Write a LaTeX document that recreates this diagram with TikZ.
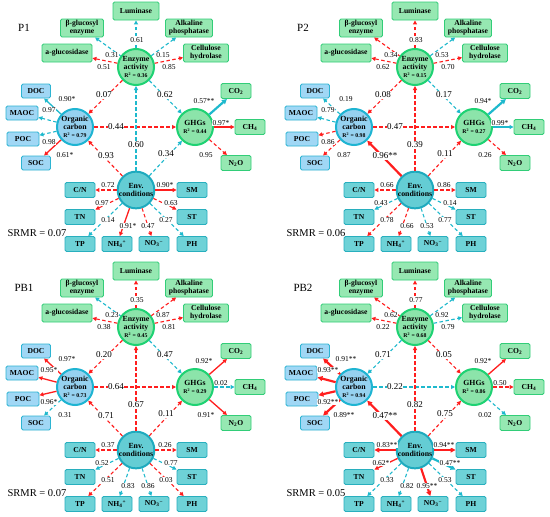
\documentclass[tikz,border=0pt]{standalone}
\usepackage{fontspec}
\setmainfont{Liberation Serif}
\usetikzlibrary{arrows.meta}
\definecolor{gfill}{RGB}{150,232,178}
\definecolor{gline}{RGB}{50,205,120}
\definecolor{gcf}{RGB}{140,228,170}
\definecolor{gcl}{RGB}{30,210,115}
\definecolor{bfill}{RGB}{160,215,245}
\definecolor{bline}{RGB}{45,180,210}
\definecolor{ocf}{RGB}{150,210,240}
\definecolor{ocl}{RGB}{30,180,210}
\definecolor{tfill}{RGB}{110,210,215}
\definecolor{tline}{RGB}{40,175,190}
\definecolor{evf}{RGB}{100,205,212}
\definecolor{evl}{RGB}{30,170,190}
\definecolor{redA}{RGB}{255,30,30}
\definecolor{cyA}{RGB}{30,185,205}
\pgfdeclarelayer{fg}
\pgfsetlayers{main,fg}
\tikzset{
 base/.style={rounded corners=1.5pt, line width=0.9pt, align=center, font=\bfseries\fontsize{7.6}{8}\selectfont, inner xsep=3pt, inner ysep=1.5pt},
 gbox/.style={base, draw=gline, fill=gfill, minimum height=18pt},
 sbox/.style={base, draw=gline, fill=gfill, minimum height=15pt, minimum width=30pt},
 bbox/.style={base, draw=bline, fill=bfill, minimum height=14pt, minimum width=29pt},
 tbox/.style={base, draw=tline, fill=tfill, minimum height=15pt, minimum width=30pt},
 lat/.style={circle, line width=2pt, minimum size=36pt, inner sep=0pt, align=center, font=\bfseries\fontsize{7.8}{8.3}\selectfont},
 gcirc/.style={lat, draw=gcl, fill=gcf},
 ocirc/.style={lat, draw=ocl, fill=ocf},
 ecirc/.style={lat, draw=evl, fill=evf},
 lab/.style={fill=white, inner sep=0.3pt, font=\fontsize{7.5}{8}\selectfont},
 blab/.style={fill=white, inner sep=0.5pt, font=\fontsize{9}{9}\selectfont},
 ttl/.style={font=\fontsize{11}{11}\selectfont},
 srmr/.style={font=\fontsize{10.5}{11}\selectfont},
 conn/.style={line width=1.1pt, -{Triangle[length=4pt,width=4pt]}},
 rd/.style={conn, draw=redA, dash pattern=on 3.5pt off 2.5pt},
 cd/.style={conn, draw=cyA, dash pattern=on 3.5pt off 2.5pt},
 rs/.style={conn, draw=redA, line width=1.3pt},
 cs/.style={conn, draw=cyA, line width=1.3pt},
 rS/.style={conn, draw=redA, line width=2.2pt, -{Triangle[length=5pt,width=5pt]}},
 cS/.style={conn, draw=cyA, line width=2.2pt, -{Triangle[length=5pt,width=5pt]}},
}
\newcommand\rsq[1]{{\fontsize{5.8}{6.2}\selectfont R\textsuperscript{2} = #1}}
\newcommand\PanelNodes[6]{%
 \node[ttl] (#1-title) at (24,28) {#2};
 \node[gbox, minimum width=46pt] (#1-Lum) at (136,11) {Luminase};
 \node[gbox, minimum width=43pt] (#1-Bgl) at (82,28) {β-glucosyl\\enzyme};
 \node[gbox, minimum width=50pt] (#1-Agl) at (67,53) {a-glucosidase};
 \node[gbox, minimum width=47pt] (#1-Alk) at (189,28) {Alkaline\\phosphatase};
 \node[gbox, minimum width=45pt] (#1-Cel) at (206,53) {Cellulose\\hydrolase};
 \node[gcirc] (#1-Enz) at (136,67) {Enzyme\\activity\\\rsq{#3}};
 \node[bbox] (#1-DOC) at (36,91) {DOC};
 \node[bbox, minimum width=32pt] (#1-MAOC) at (22,113) {MAOC};
 \node[ocirc] (#1-OC) at (75,127) {Organic\\carbon\\\rsq{#4}};
 \node[bbox, minimum width=32pt] (#1-POC) at (23,139) {POC};
 \node[bbox] (#1-SOC) at (36,163) {SOC};
 \node[gcirc] (#1-GHG) at (195,127) {GHGs\\\rsq{#5}};
 \node[sbox] (#1-CO2) at (236,91) {CO\textsubscript{2}};
 \node[sbox] (#1-CH4) at (250,127) {CH\textsubscript{4}};
 \node[sbox] (#1-N2O) at (236,163) {N\textsubscript{2}O};
 \node[ecirc] (#1-Env) at (136,190) {Env.\\conditions};
 \node[tbox] (#1-CN) at (80,190) {C/N};
 \node[tbox] (#1-TN) at (80,217) {TN};
 \node[tbox] (#1-TP) at (80,244) {TP};
 \node[tbox] (#1-NH4) at (117,244) {NH\textsubscript{4}\textsuperscript{+}};
 \node[tbox] (#1-NO3) at (154,244) {NO\textsubscript{3}\textsuperscript{−}};
 \node[tbox] (#1-PH) at (192,244) {PH};
 \node[tbox] (#1-SM) at (192,190) {SM};
 \node[tbox] (#1-ST) at (192,217) {ST};
 \node[srmr] (#1-srmr) at (37,233) {SRMR = #6};
 \coordinate (#1-LEnzLum) at (137,40);
 \coordinate (#1-LEnzBgl) at (112,55);
 \coordinate (#1-LEnzAgl) at (104,67);
 \coordinate (#1-LEnzAlk) at (163,55);
 \coordinate (#1-LEnzCel) at (169,67);
 \coordinate (#1-LOCDOC) at (67,99);
 \coordinate (#1-LOCMAOC) at (49,110);
 \coordinate (#1-LOCPOC) at (49,142);
 \coordinate (#1-LOCSOC) at (65,155);
 \coordinate (#1-LGHGCO2) at (204,101);
 \coordinate (#1-LGHGCH4) at (221,123);
 \coordinate (#1-LGHGN2O) at (206,155);
 \coordinate (#1-LEnzOC) at (104,95);
 \coordinate (#1-LEnzGHG) at (165,95);
 \coordinate (#1-LOCGHG) at (116,127);
 \coordinate (#1-LEnvEnz) at (136,145);
 \coordinate (#1-LEnvOC) at (106,156);
 \coordinate (#1-LEnvGHG) at (166,154);
 \coordinate (#1-LEnvCN) at (108,185);
 \coordinate (#1-LEnvSM) at (165,185);
 \coordinate (#1-LEnvTN) at (102,203);
 \coordinate (#1-LEnvST) at (171,203);
 \coordinate (#1-LEnvTP) at (108,220);
 \coordinate (#1-LEnvNH4) at (128,226);
 \coordinate (#1-LEnvNO3) at (148,226);
 \coordinate (#1-LEnvPH) at (166,220);
}
\newcommand\Edge[5][lab]{%
 \draw[#4] (\px-#2) -- (\px-#3);
 \begin{pgfonlayer}{fg}\node[#1] (\px-l#2#3) at (\px-L#2#3) {#5};\end{pgfonlayer}}
\begin{document}
\begin{tikzpicture}[x=1pt,y=-1pt]
\fill[white] (0,0) rectangle (550,517);
\useasboundingbox (0,0) rectangle (550,517);
% ---------- P1
\begin{scope}[shift={(0,0)}]
\def\px{a}
\PanelNodes{a}{P1}{0.36}{0.79}{0.44}{0.07}
\Edge{Enz}{Lum}{cd}{0.61}
\Edge{Enz}{Bgl}{cd}{0.31}
\Edge{Enz}{Agl}{rd}{0.51}
\Edge{Enz}{Alk}{cd}{0.15}
\Edge{Enz}{Cel}{rd}{0.85}
\Edge{OC}{DOC}{cs}{0.90*}
\Edge{OC}{MAOC}{cd}{0.97}
\Edge{OC}{POC}{cd}{0.98}
\Edge{OC}{SOC}{rs}{0.61*}
\Edge{GHG}{CO2}{cS}{0.57**}
\Edge{GHG}{CH4}{rs}{0.97*}
\Edge{GHG}{N2O}{rd}{0.95}
\Edge[blab]{Enz}{OC}{rd}{0.07}
\Edge[blab]{Enz}{GHG}{cd}{0.62}
\Edge[blab]{OC}{GHG}{rd}{0.44}
\Edge[blab]{Env}{Enz}{cd}{0.60}
\Edge[blab]{Env}{OC}{rd}{0.93}
\Edge[blab]{Env}{GHG}{cd}{0.34}
\Edge{Env}{CN}{rd}{0.72}
\Edge{Env}{TN}{rd}{0.97}
\Edge{Env}{TP}{cd}{0.14}
\Edge{Env}{NH4}{rs}{0.91*}
\Edge{Env}{NO3}{rd}{0.47}
\Edge{Env}{PH}{cd}{0.27}
\Edge{Env}{SM}{rs}{0.90*}
\Edge{Env}{ST}{rd}{0.63}
\end{scope}
% ---------- P2
\begin{scope}[shift={(279,0)}]
\def\px{b}
\PanelNodes{b}{P2}{0.15}{0.98}{0.27}{0.06}
\Edge{Enz}{Lum}{rd}{0.83}
\Edge{Enz}{Bgl}{rd}{0.34}
\Edge{Enz}{Agl}{rd}{0.62}
\Edge{Enz}{Alk}{cd}{0.53}
\Edge{Enz}{Cel}{rd}{0.70}
\Edge{OC}{DOC}{cd}{0.19}
\Edge{OC}{MAOC}{cd}{0.79}
\Edge{OC}{POC}{rd}{0.86}
\Edge{OC}{SOC}{rd}{0.87}
\Edge{GHG}{CO2}{cS}{0.94*}
\Edge{GHG}{CH4}{cs}{0.99*}
\Edge{GHG}{N2O}{rd}{0.26}
\Edge[blab]{Enz}{OC}{rd}{0.08}
\Edge[blab]{Enz}{GHG}{cd}{0.17}
\Edge[blab]{OC}{GHG}{rd}{0.47}
\Edge[blab]{Env}{Enz}{rd}{0.39}
\Edge[blab]{Env}{OC}{rS}{0.96**}
\Edge[blab]{Env}{GHG}{rd}{0.11}
\Edge{Env}{CN}{rd}{0.66}
\Edge{Env}{TN}{cd}{0.43}
\Edge{Env}{TP}{rd}{0.78}
\Edge{Env}{NH4}{rd}{0.66}
\Edge{Env}{NO3}{cd}{0.53}
\Edge{Env}{PH}{cd}{0.77}
\Edge{Env}{SM}{rd}{0.86}
\Edge{Env}{ST}{cd}{0.14}
\end{scope}
% ---------- PB1
\begin{scope}[shift={(0,260)}]
\def\px{c}
\PanelNodes{c}{PB1}{0.45}{0.73}{0.29}{0.07}
\Edge{Enz}{Lum}{rd}{0.35}
\Edge{Enz}{Bgl}{cd}{0.23}
\Edge{Enz}{Agl}{rd}{0.38}
\Edge{Enz}{Alk}{rd}{0.87}
\Edge{Enz}{Cel}{rd}{0.81}
\Edge{OC}{DOC}{rs}{0.97*}
\Edge{OC}{MAOC}{rs}{0.95*}
\Edge{OC}{POC}{rs}{0.96*}
\Edge{OC}{SOC}{cd}{0.31}
\Edge{GHG}{CO2}{rs}{0.92*}
\Edge{GHG}{CH4}{cd}{0.02}
\Edge{GHG}{N2O}{rs}{0.91*}
\Edge[blab]{Enz}{OC}{rd}{0.20}
\Edge[blab]{Enz}{GHG}{cd}{0.47}
\Edge[blab]{OC}{GHG}{rd}{0.64}
\Edge[blab]{Env}{Enz}{rd}{0.67}
\Edge[blab]{Env}{OC}{rd}{0.71}
\Edge[blab]{Env}{GHG}{rd}{0.11}
\Edge{Env}{CN}{rd}{0.37}
\Edge{Env}{TN}{cd}{0.52}
\Edge{Env}{TP}{rd}{0.51}
\Edge{Env}{NH4}{cd}{0.83}
\Edge{Env}{NO3}{cd}{0.86}
\Edge{Env}{PH}{rd}{0.03}
\Edge{Env}{SM}{rd}{0.26}
\Edge{Env}{ST}{cd}{0.77}
\end{scope}
% ---------- PB2
\begin{scope}[shift={(279,260)}]
\def\px{d}
\PanelNodes{d}{PB2}{0.68}{0.94}{0.86}{0.05}
\Edge{Enz}{Lum}{rd}{0.77}
\Edge{Enz}{Bgl}{rd}{0.62}
\Edge{Enz}{Agl}{rd}{0.22}
\Edge{Enz}{Alk}{cd}{0.92}
\Edge{Enz}{Cel}{cd}{0.79}
\Edge{OC}{DOC}{rS}{0.91**}
\Edge{OC}{MAOC}{rS}{0.93**}
\Edge{OC}{POC}{rS}{0.92**}
\Edge{OC}{SOC}{rS}{0.89**}
\Edge{GHG}{CO2}{rs}{0.92*}
\Edge{GHG}{CH4}{rd}{0.50}
\Edge{GHG}{N2O}{cd}{0.02}
\Edge[blab]{Enz}{OC}{cd}{0.71}
\Edge[blab]{Enz}{GHG}{rd}{0.05}
\Edge[blab]{OC}{GHG}{cd}{0.22}
\Edge[blab]{Env}{Enz}{rd}{0.82}
\Edge[blab]{Env}{OC}{rS}{0.47**}
\Edge[blab]{Env}{GHG}{rd}{0.75}
\Edge{Env}{CN}{rS}{0.83**}
\Edge{Env}{TN}{rs}{0.62*}
\Edge{Env}{TP}{cd}{0.33}
\Edge{Env}{NH4}{cd}{0.82}
\Edge{Env}{NO3}{rS}{0.95**}
\Edge{Env}{PH}{cd}{0.53}
\Edge{Env}{SM}{rS}{0.94**}
\Edge{Env}{ST}{cS}{0.47**}
\end{scope}
\end{tikzpicture}
\end{document}
